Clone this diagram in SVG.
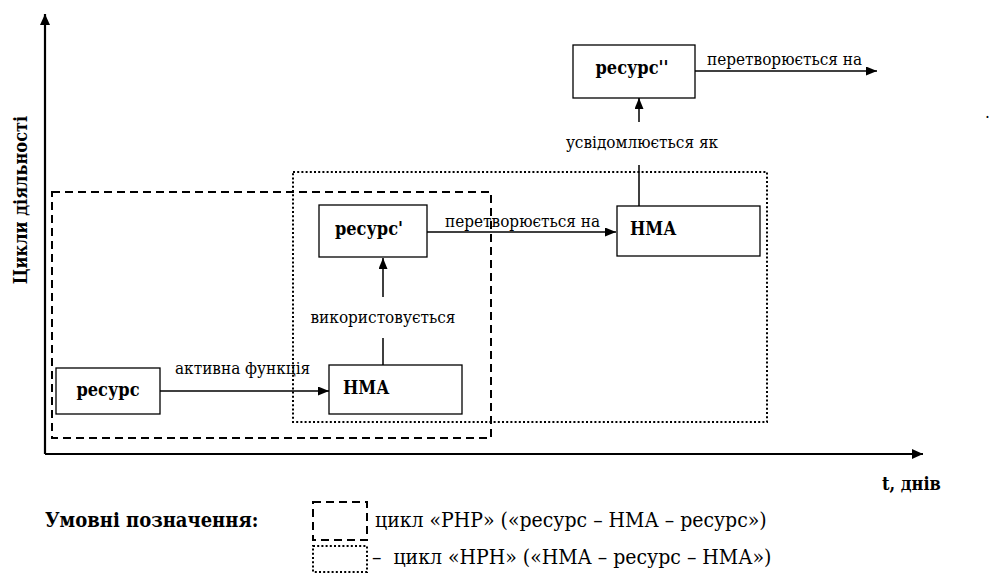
<svg xmlns="http://www.w3.org/2000/svg" width="992" height="575" viewBox="0 0 992 575">
<style>
text{font-family:"DejaVu Serif Condensed","DejaVu Serif",serif;fill:#000}
.nl{font-weight:bold;font-size:18px}
.lb{font-size:17px}
.lg{font-size:21px}
.lgb{font-size:20px;font-weight:bold}
.box{fill:#fff;stroke:#000;stroke-width:1.3}
.conn{fill:none;stroke:#000;stroke-width:1.5}
.axis{fill:none;stroke:#000;stroke-width:2.2}
.dash{fill:none;stroke:#000;stroke-width:2;stroke-dasharray:8 5}
.dot{fill:none;stroke:#000;stroke-width:2;stroke-dasharray:2 2.2}
</style>
<defs>
<marker id="ah" markerUnits="userSpaceOnUse" markerWidth="12" markerHeight="10" refX="11" refY="4.5" orient="auto">
<path d="M0,0 L11,4.5 L0,9 z" fill="#000"/>
</marker>
<marker id="ax" markerUnits="userSpaceOnUse" markerWidth="12" markerHeight="12" refX="11" refY="5" orient="auto">
<path d="M0,0 L11,5 L0,10 z" fill="#000"/>
</marker>
</defs>
<rect width="992" height="575" fill="#fff"/>

<g id="axes">
<path class="axis" d="M45,454 V14" marker-end="url(#ax)"/>
<path class="axis" d="M45,454 H923" marker-end="url(#ax)"/>
<text class="nl" transform="translate(27,200) rotate(-90)" text-anchor="middle">Цикли діяльності</text>
<text class="nl" font-size="16" x="882" y="490">t, днів</text>
<text class="lb" x="985" y="118">.</text>
</g>

<g id="cycle-rnr">
<rect class="dash" x="52" y="192" width="439" height="246"/>
</g>
<g id="cycle-nrn">
<rect class="dot" x="293" y="172" width="474" height="250"/>
</g>

<g id="connectors">
<path class="conn" d="M160,391 H329" marker-end="url(#ah)"/>
<path class="conn" d="M383,365 V338 M383,297 V258" marker-end="url(#ah)"/>
<path class="conn" d="M427,232 H616" marker-end="url(#ah)"/>
<path class="conn" d="M639,206 V165 M639,122 V98" marker-end="url(#ah)"/>
<path class="conn" d="M695,71 H877" marker-end="url(#ah)"/>
<text class="lb" x="175" y="374">активна функція</text>
<text class="lb" x="383" y="323" text-anchor="middle">використовується</text>
<text class="lb" x="445" y="227">перетворюється на</text>
<text class="lb" x="642" y="148" text-anchor="middle">усвідомлюється як</text>
<text class="lb" x="707" y="65">перетворюється на</text>
</g>

<g id="node-resurs">
<rect class="box" x="56" y="368" width="104" height="46"/>
<text class="nl" x="108" y="396" text-anchor="middle">ресурс</text>
</g>
<g id="node-nma1">
<rect class="box" x="329" y="365" width="133" height="49"/>
<text class="nl" x="343" y="394">НМА</text>
</g>
<g id="node-resurs1">
<rect class="box" x="319" y="205" width="108" height="52"/>
<text class="nl" x="369" y="235" text-anchor="middle">ресурс'</text>
</g>
<g id="node-nma2">
<rect class="box" x="617" y="206" width="143" height="50"/>
<text class="nl" x="630" y="235">НМА</text>
</g>
<g id="node-resurs2">
<rect class="box" x="573" y="45" width="122" height="53"/>
<text class="nl" x="632" y="74" text-anchor="middle">ресурс''</text>
</g>

<g id="legend">
<text class="lgb" x="45" y="527">Умовні позначення:</text>
<rect class="dash" x="313" y="502" width="54" height="38" stroke-dasharray="7 5"/>
<text class="lg" x="375" y="527">цикл «РНР» («ресурс – НМА – ресурс»)</text>
<rect class="dot" x="313" y="546" width="54" height="26"/>
<text class="lg" x="372" y="564" xml:space="preserve">–  цикл «НРН» («НМА – ресурс – НМА»)</text>
</g>
</svg>
